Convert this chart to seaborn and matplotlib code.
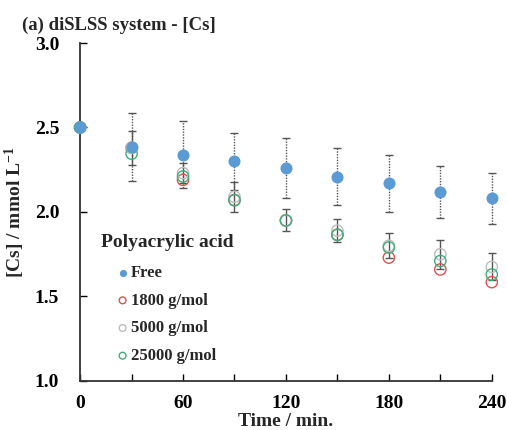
import numpy as np
import pandas as pd
import matplotlib
matplotlib.use("Agg")
import matplotlib.pyplot as plt
import seaborn as sns

time = [0, 30, 60, 90, 120, 150, 180, 210, 240]
free = [2.50, 2.385, 2.34, 2.30, 2.26, 2.21, 2.17, 2.12, 2.08]
free_err = [0.0, 0.20, 0.20, 0.17, 0.18, 0.17, 0.17, 0.155, 0.15]
pa1800 = [2.50, 2.38, 2.19, 2.07, 1.95, 1.865, 1.73, 1.66, 1.585]
pa5000 = [2.50, 2.38, 2.23, 2.09, 1.95, 1.89, 1.80, 1.75, 1.675]
pa25000 = [2.50, 2.345, 2.21, 2.07, 1.95, 1.865, 1.79, 1.71, 1.63]
poly_err = [0.0, 0.10, 0.06, 0.09, 0.065, 0.07, 0.075, 0.085, 0.08]
series_labels = ["Free", "1800 g/mol", "5000 g/mol", "25000 g/mol"]
x_ticks = [0, 60, 120, 180, 240]
y_ticks = [1.0, 1.5, 2.0, 2.5, 3.0]

sns.set_theme(style="white")
plt.rcParams['font.family'] = ['Liberation Serif', 'DejaVu Serif']
plt.rcParams['font.weight'] = 'bold'
plt.rcParams['mathtext.default'] = 'regular'

fig = plt.figure(figsize=(5.07, 4.30), dpi=100)
ax = fig.add_axes([0.158, 0.114, 0.812, 0.786])

# error bars
eb1 = ax.errorbar(time, free, yerr=free_err, fmt='none', ecolor='#555555',
                  elinewidth=1.0, capsize=3, capthick=1.0, zorder=1)
for c in eb1[2]:
    c.set_linestyle((0, (1, 1)))
    c.set_clip_on(False)
for c in eb1[1]:
    c.set_clip_on(False)
eb2 = ax.errorbar(time, pa5000, yerr=poly_err, fmt='none', ecolor='#555555',
                  elinewidth=1.0, capsize=3, capthick=1.0, zorder=1)
for c in list(eb2[1]) + list(eb2[2]):
    c.set_clip_on(False)

df = pd.DataFrame({
    "time": time * 4,
    "value": free + pa1800 + pa5000 + pa25000,
    "series": sum([[s] * len(time) for s in series_labels], []),
})

colors = {"Free": "#5B9BD5", "1800 g/mol": "#D9534F",
          "5000 g/mol": "#BDBDBD", "25000 g/mol": "#3DAE7C"}

for s in series_labels[1:]:
    sub = df[df.series == s]
    ax.scatter(sub.time, sub.value, s=66, facecolors='none',
               edgecolors=colors[s], linewidths=1.0, zorder=3, label=s,
               clip_on=False)
sub = df[df.series == "Free"]
sns.scatterplot(data=sub, x="time", y="value", ax=ax, color=colors["Free"],
                s=75, edgecolor=colors["Free"], linewidth=0, zorder=4,
                label="Free", clip_on=False)

ax.set_xlim(0, 240)
ax.set_ylim(1.0, 3.0)
ax.set_xticks(x_ticks)
ax.set_xticks([30, 90, 150, 210], minor=True)
ax.set_yticks(y_ticks)
ax.set_xticklabels([str(t) for t in x_ticks], fontsize=14, fontweight='bold')
ax.set_yticklabels([f"{v:.1f}" for v in y_ticks], fontsize=14, fontweight='bold')
ax.tick_params(axis='both', which='both', direction='in', length=5, width=1,
               colors='black')
ax.tick_params(axis='x', which='both', bottom=True, pad=10)
ax.tick_params(axis='y', which='both', left=True, pad=15)
for side in ['top', 'right']:
    ax.spines[side].set_visible(False)
for side in ['left', 'bottom']:
    ax.spines[side].set_color('#333333')
    ax.spines[side].set_linewidth(1.3)

ax.set_xlabel("Time / min.", fontsize=14, fontweight='bold')
ax.set_ylabel("[Cs] / mmol L$^{-1}$", fontsize=14, fontweight='bold')
ax.xaxis.set_label_coords(0.5, -0.094)
ax.yaxis.set_label_coords(-0.128, 0.5)

handles, labels = ax.get_legend_handles_labels()
order = [labels.index(s) for s in series_labels]
leg = ax.legend([handles[i] for i in order], [labels[i] for i in order],
                loc='upper left',
                bbox_to_anchor=(0.087, 0.343), frameon=False,
                prop={'weight': 'bold', 'size': 12}, markerscale=0.6,
                handletextpad=0.1, labelspacing=0.7, handlelength=0.8,
                borderaxespad=0, borderpad=0)
ax.text(0.05, 0.41, "Polyacrylic acid", transform=ax.transAxes,
        fontsize=14, fontweight='bold', va='center', ha='left')

fig.text(0.043, 0.93, "(a) diSLSS system - [Cs]", fontsize=13.5, fontweight='bold')

fig.savefig("out.png", dpi=100)
